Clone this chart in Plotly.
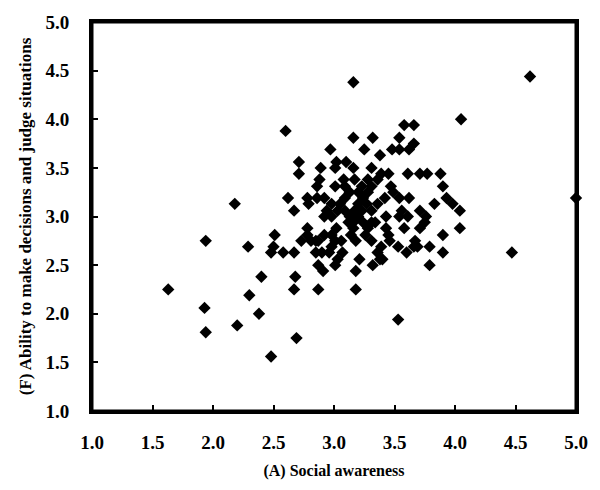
import plotly.graph_objects as go

social_awareness = [
    1.63, 1.94, 1.93, 1.94, 2.18, 2.20, 2.29, 2.30, 2.40, 2.38,
    2.48, 2.51, 2.48, 2.50, 2.58, 2.60, 2.62, 2.67, 2.67, 2.68,
    2.67, 2.69, 2.71, 2.71, 2.78, 2.79, 2.78, 2.73, 2.78, 2.85,
    2.87, 2.85, 2.87, 2.91, 2.90, 2.96, 2.92, 2.92, 2.86, 2.86,
    2.88, 2.89, 2.97, 3.02, 3.01, 3.10, 3.16, 3.16, 3.16, 3.01,
    3.08, 3.09, 3.17, 3.23, 3.25, 3.32, 3.31, 3.38, 3.39, 3.45,
    3.48, 3.54, 3.54, 3.58, 3.66, 3.66, 3.62, 3.61, 3.71, 3.77,
    3.88, 3.90, 4.05, 4.62, 5.00, 4.47, 4.04, 4.04, 3.98, 3.93,
    3.83, 3.90, 3.90, 3.79, 3.79, 3.75, 3.71, 3.71, 3.67, 3.66,
    3.60, 3.53, 3.58, 3.61, 3.56, 3.62, 3.54, 3.49, 3.47, 3.43,
    3.43, 3.46, 3.53, 3.39, 3.38, 3.32, 3.40, 3.31, 3.28, 3.34,
    3.31, 3.27, 3.28, 3.31, 3.20, 3.20, 3.17, 3.20, 3.24, 3.16,
    3.16, 3.13, 3.09, 3.03, 3.05, 2.98, 2.98, 3.02, 2.98, 3.01,
    3.06, 3.07, 3.03, 3.01, 3.18, 3.21, 3.18, 3.18, 2.87, 2.81,
    3.09, 3.13, 3.24, 3.36, 3.42, 2.92, 2.94, 3.12, 3.76, 3.54,
    3.69, 3.45, 3.26, 3.36, 3.23, 3.28, 3.36, 2.98, 3.14, 3.31,
]
decision_ability = [
    2.25, 2.75, 2.06, 1.81, 3.13, 1.88, 2.69, 2.19, 2.38, 2.00,
    1.56, 2.81, 2.63, 2.69, 2.63, 3.88, 3.19, 3.06, 2.63, 2.38,
    2.25, 1.75, 3.56, 3.44, 3.19, 3.13, 2.88, 2.75, 2.81, 2.75,
    2.25, 2.63, 2.50, 2.44, 2.63, 2.63, 2.81, 3.00, 3.19, 3.31,
    3.38, 3.50, 3.69, 3.56, 3.50, 3.56, 3.50, 3.81, 4.38, 3.31,
    3.38, 3.31, 3.38, 3.31, 3.69, 3.81, 3.50, 3.63, 3.44, 3.44,
    3.69, 3.81, 3.69, 3.94, 3.94, 3.75, 3.69, 3.44, 3.44, 3.44,
    3.44, 3.31, 4.00, 4.44, 3.19, 2.63, 2.88, 3.06, 3.13, 3.19,
    3.13, 2.81, 2.63, 2.69, 2.50, 2.94, 2.88, 3.06, 2.75, 2.69,
    2.63, 1.94, 2.88, 3.00, 3.06, 3.19, 3.19, 3.25, 3.31, 3.00,
    2.88, 2.75, 2.69, 2.69, 2.56, 2.50, 2.56, 2.75, 2.88, 2.94,
    3.06, 3.13, 3.25, 3.31, 3.25, 3.13, 3.06, 3.00, 2.94, 2.94,
    2.88, 3.00, 3.06, 3.06, 3.13, 3.13, 3.00, 2.88, 2.81, 2.75,
    2.75, 2.63, 2.56, 2.50, 2.75, 2.56, 2.44, 2.25, 2.75, 2.75,
    3.19, 3.25, 3.19, 3.13, 3.19, 3.19, 3.06, 2.94, 3.00, 3.00,
    2.69, 2.81, 2.81, 2.63, 3.06, 3.38, 3.38, 2.69, 2.81, 2.94,
]

tick_vals = [1.0, 1.5, 2.0, 2.5, 3.0, 3.5, 4.0, 4.5, 5.0]
tick_text = ["1.0", "1.5", "2.0", "2.5", "3.0", "3.5", "4.0", "4.5", "5.0"]

x_title = "(A) Social awareness"
y_title = "(F) Ability to make decisions and judge situations"

font_family = "Liberation Serif"
bold_ticks = ["<b>" + t + "</b>" for t in tick_text]
tick_font = dict(family=font_family, size=19, color="black")

fig = go.Figure()
fig.add_trace(go.Scatter(
    x=social_awareness,
    y=decision_ability,
    mode="markers",
    marker=dict(symbol="diamond", size=9.5, color="black", line=dict(width=0)),
    cliponaxis=False,
    showlegend=False,
))

# plot frame drawn as a shape spanning the whole plotting area
fig.add_shape(type="rect", xref="paper", yref="paper", x0=0, y0=0, x1=1, y1=1,
              line=dict(color="black", width=3), fillcolor="rgba(0,0,0,0)", layer="above")

fig.update_layout(
    width=600,
    height=490,
    margin=dict(l=92, r=21, t=14, b=79),
    paper_bgcolor="white",
    plot_bgcolor="white",
    font=dict(family=font_family, color="black"),
    xaxis=dict(
        range=[1.0, 5.0],
        tickmode="array",
        tickvals=tick_vals,
        ticktext=bold_ticks,
        showgrid=False,
        zeroline=False,
        showline=True,
        linecolor="black",
        linewidth=3,
        mirror=True,
        ticks="inside",
        ticklen=6,
        tickwidth=2,
        tickcolor="black",
        tickfont=tick_font,
        ticklabelstandoff=12,
        title=dict(text="<b>" + x_title + "</b>", font=dict(family=font_family, size=16, color="black"), standoff=14),
    ),
    yaxis=dict(
        range=[1.0, 5.0],
        tickmode="array",
        tickvals=tick_vals,
        ticktext=bold_ticks,
        showgrid=False,
        zeroline=False,
        showline=True,
        linecolor="black",
        linewidth=3,
        mirror=True,
        ticks="inside",
        ticklen=6,
        tickwidth=2,
        tickcolor="black",
        tickfont=tick_font,
        ticklabelstandoff=16,
        title=dict(text="<b>" + y_title + "</b>", font=dict(family=font_family, size=17, color="black"), standoff=10),
    ),
)

fig.write_html("out.html")
